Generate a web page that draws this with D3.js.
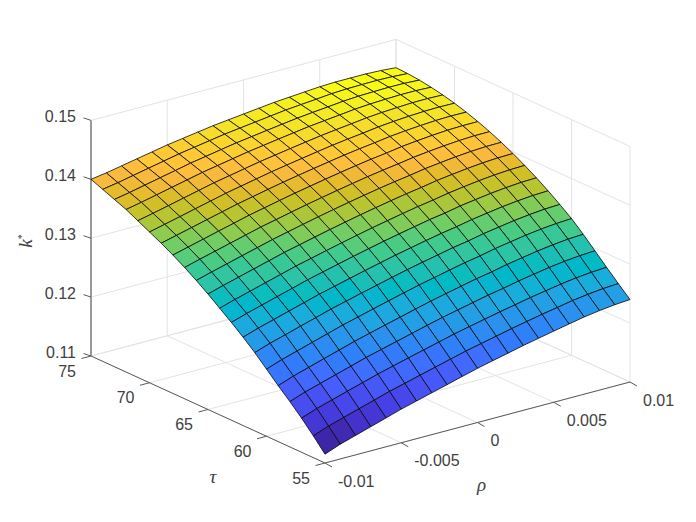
<!DOCTYPE html>
<html><head><meta charset="utf-8">
<script src="https://cdn.jsdelivr.net/npm/d3@7"></script>
<style>html,body{margin:0;padding:0;background:#fff}svg{display:block}text{font-family:"Liberation Sans",Arial,sans-serif;fill:#404040}</style>
</head><body><svg id="c" width="696" height="522"></svg>
<script>
const rhoValues=[-0.01,-0.009,-0.008,-0.007,-0.006,-0.005,-0.004,-0.003,-0.002,-0.001,0,0.001,0.002,0.003,0.004,0.005,0.006,0.007,0.008,0.009,0.01];
const tauValues=[75,74,73,72,71,70,69,68,67,66,65,64,63,62,61,60,59,58,57,56,55];
const kStar=[
[.14000,.14040,.14090,.14140,.14190,.14240,.14280,.14320,.14360,.14390,.14420,.14450,.14480,.14500,.14520,.14540,.14550,.14550,.14550,.14540,.14520],
[.13920,.13965,.14018,.14072,.14124,.14178,.14221,.14264,.14307,.14341,.14374,.14408,.14441,.14465,.14487,.14512,.14525,.14530,.14533,.14527,.14510],
[.13840,.13889,.13945,.14001,.14056,.14113,.14158,.14205,.14250,.14287,.14324,.14360,.14395,.14423,.14448,.14475,.14492,.14500,.14506,.14504,.14490],
[.13760,.13813,.13871,.13929,.13987,.14045,.14093,.14141,.14189,.14228,.14268,.14306,.14344,.14373,.14401,.14431,.14450,.14462,.14471,.14471,.14460],
[.13660,.13717,.13777,.13838,.13899,.13960,.14010,.14061,.14112,.14154,.14197,.14238,.14278,.14311,.14342,.14375,.14397,.14412,.14425,.14427,.14420],
[.13560,.13621,.13683,.13747,.13809,.13872,.13925,.13978,.14031,.14077,.14121,.14165,.14207,.14243,.14275,.14311,.14336,.14355,.14369,.14375,.14370],
[.13460,.13524,.13588,.13653,.13717,.13781,.13836,.13892,.13945,.13994,.14041,.14086,.14130,.14168,.14202,.14240,.14267,.14288,.14305,.14313,.14310],
[.13350,.13417,.13483,.13550,.13615,.13682,.13738,.13795,.13850,.13900,.13950,.13997,.14042,.14083,.14118,.14159,.14188,.14212,.14231,.14240,.14240],
[.13230,.13301,.13368,.13436,.13504,.13572,.13629,.13688,.13745,.13798,.13849,.13898,.13945,.13987,.14025,.14067,.14098,.14125,.14146,.14159,.14160],
[.13100,.13174,.13243,.13313,.13382,.13451,.13511,.13571,.13630,.13685,.13738,.13789,.13837,.13882,.13921,.13966,.13999,.14029,.14052,.14067,.14070],
[.12960,.13037,.13108,.13180,.13250,.13322,.13383,.13445,.13505,.13562,.13618,.13670,.13720,.13767,.13808,.13855,.13890,.13922,.13948,.13965,.13970],
[.12810,.12890,.12962,.13036,.13108,.13182,.13244,.13308,.13370,.13429,.13487,.13540,.13593,.13642,.13684,.13733,.13771,.13806,.13833,.13852,.13860],
[.12660,.12743,.12816,.12892,.12964,.13040,.13103,.13168,.13231,.13292,.13351,.13406,.13459,.13511,.13553,.13605,.13644,.13681,.13710,.13731,.13740],
[.12500,.12586,.12660,.12736,.12811,.12887,.12951,.13017,.13082,.13144,.13205,.13261,.13316,.13368,.13413,.13465,.13506,.13546,.13576,.13599,.13610],
[.12330,.12419,.12494,.12572,.12647,.12725,.12790,.12858,.12923,.12987,.13050,.13107,.13162,.13217,.13262,.13317,.13359,.13401,.13433,.13458,.13470],
[.12140,.12231,.12309,.12387,.12465,.12544,.12611,.12680,.12748,.12814,.12879,.12937,.12995,.13051,.13099,.13155,.13200,.13244,.13279,.13305,.13320],
[.11950,.12043,.12122,.12201,.12278,.12357,.12426,.12495,.12562,.12630,.12696,.12755,.12813,.12870,.12918,.12975,.13021,.13066,.13102,.13130,.13145],
[.11770,.11864,.11941,.12019,.12096,.12175,.12242,.12310,.12377,.12445,.12510,.12568,.12625,.12683,.12730,.12786,.12832,.12878,.12913,.12939,.12955],
[.11580,.11675,.11752,.11830,.11907,.11984,.12052,.12120,.12186,.12253,.12320,.12377,.12434,.12490,.12541,.12595,.12640,.12686,.12723,.12749,.12765],
[.11370,.11468,.11545,.11624,.11702,.11781,.11848,.11918,.11985,.12054,.12121,.12180,.12237,.12296,.12349,.12402,.12449,.12498,.12534,.12563,.12580],
[.11150,.11251,.11330,.11411,.11490,.11571,.11640,.11711,.11780,.11851,.11920,.11981,.12040,.12101,.12155,.12208,.12260,.12311,.12350,.12381,.12400]
];
const rhoTicks=[-0.01,-0.005,0,0.005,0.01];
const rhoTickLabels=["-0.01","-0.005","0","0.005","0.01"];
const tauTicks=[55,60,65,70,75];
const tauTickLabels=["55","60","65","70","75"];
const zTicks=[0.11,0.12,0.13,0.14,0.15];
const zTickLabels=["0.11","0.12","0.13","0.14","0.15"];
const parula=[[.2422,.1504,.6603],[.2504,.1650,.7076],[.2578,.1818,.7511],[.2647,.1978,.7952],[.2706,.2147,.8364],[.2751,.2342,.8710],[.2783,.2559,.8991],[.2803,.2782,.9221],[.2813,.3006,.9414],[.2810,.3228,.9579],[.2795,.3447,.9717],[.2760,.3667,.9829],[.2699,.3892,.9906],[.2602,.4123,.9952],[.2440,.4358,.9988],[.2206,.4603,.9973],[.1963,.4847,.9892],[.1834,.5074,.9798],[.1786,.5289,.9682],[.1764,.5499,.9520],[.1687,.5703,.9359],[.1540,.5902,.9218],[.1460,.6091,.9079],[.1380,.6276,.8973],[.1248,.6459,.8883],[.1113,.6635,.8763],[.0952,.6798,.8598],[.0689,.6948,.8394],[.0297,.7082,.8163],[.0036,.7203,.7917],[.0067,.7312,.7660],[.0433,.7411,.7394],[.0964,.7500,.7120],[.1408,.7584,.6842],[.1717,.7670,.6554],[.1938,.7758,.6251],[.2161,.7843,.5923],[.2470,.7918,.5567],[.2906,.7973,.5188],[.3406,.8008,.4789],[.3909,.8029,.4354],[.4456,.8024,.3909],[.5044,.7993,.3480],[.5616,.7942,.3045],[.6174,.7876,.2612],[.6720,.7793,.2227],[.7242,.7698,.1910],[.7738,.7598,.1646],[.8203,.7498,.1535],[.8634,.7406,.1596],[.9035,.7330,.1774],[.9393,.7288,.2100],[.9728,.7298,.2394],[.9956,.7434,.2371],[.9970,.7659,.2199],[.9952,.7893,.2028],[.9892,.8136,.1885],[.9786,.8386,.1766],[.9676,.8639,.1643],[.9610,.8890,.1537],[.9597,.9135,.1423],[.9628,.9373,.1265],[.9691,.9606,.1064],[.9769,.9839,.0805]];

// Oblique projection built from linear scales
const ox=325, oy=463;
const rhoX=d3.scaleLinear().domain([-0.01,0.01]).range([0,305]);
const rhoY=d3.scaleLinear().domain([-0.01,0.01]).range([0,-81]);
const tauX=d3.scaleLinear().domain([55,75]).range([0,-234]);
const tauY=d3.scaleLinear().domain([55,75]).range([0,-107]);
const zY=d3.scaleLinear().domain([0.11,0.15]).range([0,-235.6]);
const P=(r,t,z)=>[ox+rhoX(r)+tauX(t), oy+rhoY(r)+tauY(t)+zY(z)];
const flat=kStar.flat();
const colorOf=d3.scaleQuantize().domain(d3.extent(flat)).range(parula.map(c=>`rgb(${c.map(v=>Math.round(v*255)).join(",")})`));

const svg=d3.select("#c");
svg.append("rect").attr("width",696).attr("height",522).attr("fill","#fff");
const line=(g,a,b,col,w)=>g.append("line").attr("x1",a[0]).attr("y1",a[1]).attr("x2",b[0]).attr("y2",b[1]).attr("stroke",col).attr("stroke-width",w);

// grid
const grid=svg.append("g");
const gc="#e3e3e3";
const [rMin,rMax]=d3.extent(rhoTicks),[tMin,tMax]=d3.extent(tauTicks),[zMin,zMax]=d3.extent(zTicks);
rhoTicks.forEach(r=>{line(grid,P(r,tMin,zMin),P(r,tMax,zMin),gc,1);line(grid,P(r,tMax,zMin),P(r,tMax,zMax),gc,1);});
tauTicks.forEach(t=>{line(grid,P(rMin,t,zMin),P(rMax,t,zMin),gc,1);line(grid,P(rMax,t,zMin),P(rMax,t,zMax),gc,1);});
zTicks.forEach(z=>{line(grid,P(rMin,tMax,z),P(rMax,tMax,z),gc,1);line(grid,P(rMax,tMax,z),P(rMax,tMin,z),gc,1);});

// axes
const ax=svg.append("g");
const ac="#5a5a5a";
line(ax,P(rMin,tMax,zMin),P(rMin,tMin,zMin),ac,1);
line(ax,P(rMin,tMin,zMin),P(rMax,tMin,zMin),ac,1);
line(ax,P(rMin,tMax,zMin),P(rMin,tMax,zMax),"#999",2);
const tl=svg.append("g").attr("font-size",16);
tauTicks.forEach((t,i)=>{const p=P(rMin,t,zMin);line(ax,p,[p[0]-9.5,p[1]+2.5],ac,1);
  tl.append("text").attr("x",p[0]-15).attr("y",p[1]+15).attr("text-anchor","end").attr("dominant-baseline","central").text(tauTickLabels[i]);});
rhoTicks.forEach((r,i)=>{const p=P(r,tMin,zMin);line(ax,p,[p[0]+7,p[1]+4],ac,1);
  tl.append("text").attr("x",p[0]+13).attr("y",p[1]+18).attr("text-anchor","start").attr("dominant-baseline","central").text(rhoTickLabels[i]);});
zTicks.forEach((z,i)=>{const p=P(rMin,tMax,z);line(ax,p,[p[0]-7.5,p[1]-2.5],ac,1);
  tl.append("text").attr("x",p[0]-15).attr("y",p[1]-4).attr("text-anchor","end").attr("dominant-baseline","central").text(zTickLabels[i]);});

// axis labels
const lab=(x,y,txt)=>svg.append("text").attr("x",x).attr("y",y).attr("text-anchor","middle").attr("dominant-baseline","central")
  .attr("font-size",19).attr("font-style","italic").style("font-family","'Liberation Serif',serif").text(txt);
lab(213,476,"τ");
lab(481.5,484,"ρ");
const kl=svg.append("text").attr("transform","translate(32,241) rotate(-90)").attr("text-anchor","middle")
  .attr("font-size",19).attr("font-style","italic").style("font-family","'Liberation Serif',serif");
kl.append("tspan").text("k");
kl.append("tspan").attr("dy",-7).attr("font-size",10).attr("font-style","normal").text("*");

// surface: far cells first
const cells=[];
for(let j=0;j<tauValues.length-1;j++)for(let i=rhoValues.length-2;i>=0;i--)cells.push({i,j});
svg.append("g").selectAll("path").data(cells).join("path")
  .attr("d",({i,j})=>"M"+[[i,j],[i+1,j],[i+1,j+1],[i,j+1]].map(([a,b])=>P(rhoValues[a],tauValues[b],kStar[b][a]).join(",")).join("L")+"Z")
  .attr("fill",({i,j})=>colorOf(kStar[j+1][i]))
  .attr("stroke","#0a0a0a").attr("stroke-opacity",.9).attr("stroke-width",.9).attr("stroke-linejoin","round");
</script></body></html>
